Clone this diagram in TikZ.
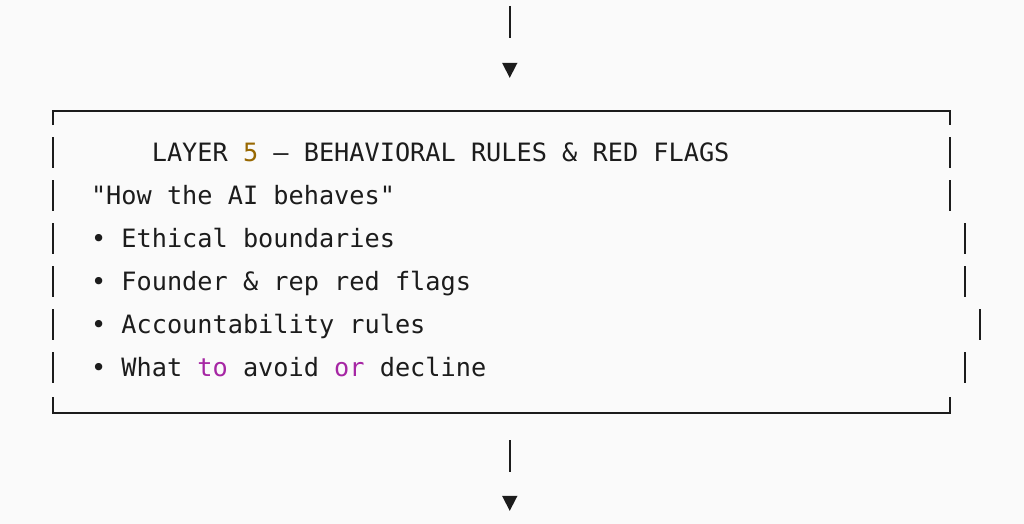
\documentclass[tikz,border=0pt]{standalone}
\usepackage{fontspec}
\setmonofont{DejaVu Sans Mono}
\usetikzlibrary{shapes.geometric}
\definecolor{bg}{HTML}{FAFAFA}
\definecolor{ink}{HTML}{1C1C1C}
\definecolor{num}{HTML}{986801}
\definecolor{kw}{HTML}{A626A4}
\begin{document}
\begin{tikzpicture}[x=1pt,y=-1pt,
  txt/.style={anchor=base west, inner sep=0pt, outer sep=0pt,
    font=\ttfamily\fontsize{25.25}{30}\selectfont, text=ink},
  bar/.style={draw=ink, line width=2pt},
  tri/.style={isosceles triangle, isosceles triangle stretches=true,
    shape border rotate=270, minimum width=15.5pt, minimum height=15pt,
    inner sep=0pt, outer sep=0pt, fill=ink, draw=none}]
\fill[bg] (0,0) rectangle (1024,524);
\useasboundingbox (0,0) rectangle (1024,524);

% incoming arrow
\coordinate (inA) at (510,6);
\coordinate (inB) at (510,38);
\draw[bar] (inA) -- (inB);
\node[tri] (inTip) at (509.75,67.5) {};

% box frame
\coordinate (tl) at (53,110.7);
\coordinate (tr) at (950,110.7);
\coordinate (bl) at (53,412.7);
\coordinate (br) at (950,412.7);
\draw[bar] ([yshift=-14.5pt]tl) -- (tl) -- (tr) -- ([yshift=-14.5pt]tr);
\draw[bar] ([yshift=15.5pt]bl) -- (bl) -- (br) -- ([yshift=15.5pt]br);

% side bars per text row
\foreach \yb/\xr in {161/950, 204/950, 247/965, 290/965, 333/980, 376/965}{
  \draw[bar] (53,\yb-24) -- (53,\yb+7);
  \draw[bar] (\xr,\yb-24) -- (\xr,\yb+7);
}

% texts
\node[txt] (title) at (151.8,161) {LAYER {\color{num}5} — BEHAVIORAL RULES \& RED FLAGS};
\node[txt] (sub) at (91,204) {"How the AI behaves"};
\node[txt] (b1) at (91,247) {• Ethical boundaries};
\node[txt] (b2) at (91,290) {• Founder \& rep red flags};
\node[txt] (b3) at (91,333) {• Accountability rules};
\node[txt] (b4) at (91,376) {• What {\color{kw}to} avoid {\color{kw}or} decline};

% outgoing arrow
\coordinate (outA) at (510,440);
\coordinate (outB) at (510,472);
\draw[bar] (outA) -- (outB);
\node[tri] (outTip) at (509.75,500.5) {};
\end{tikzpicture}
\end{document}
